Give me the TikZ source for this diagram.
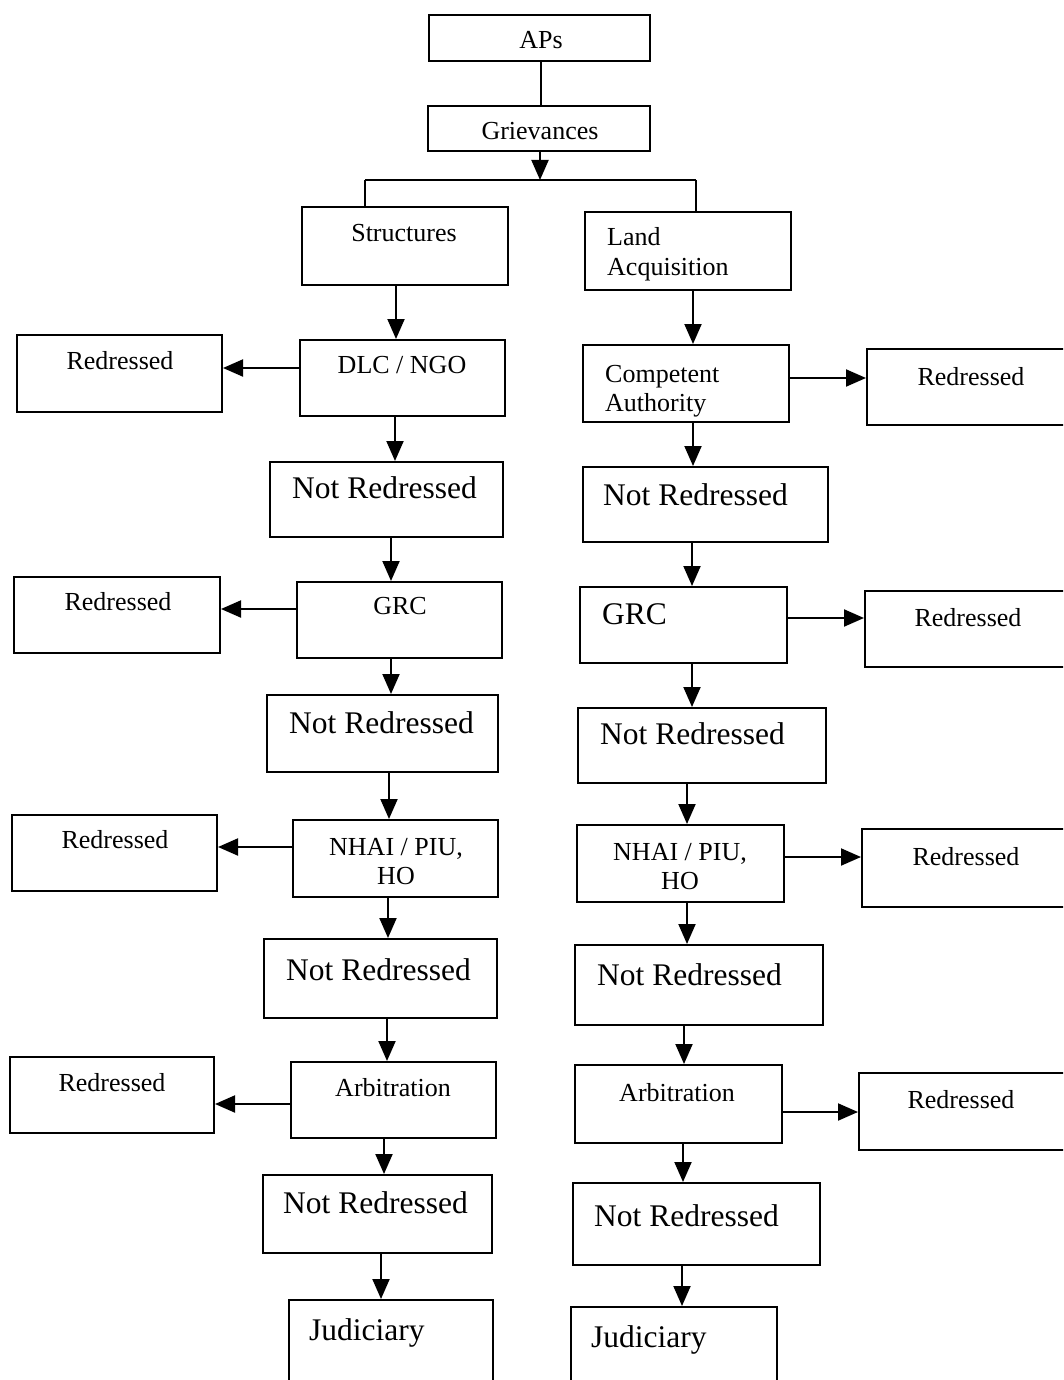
\documentclass[tikz,border=0pt]{standalone}
\usepackage{fontspec}
\setmainfont{Liberation Serif}
\usetikzlibrary{arrows.meta}
\newcommand\fsm{\fontsize{26}{29.5}\selectfont}
\newcommand\fbg{\fontsize{31.5}{36}\selectfont}
\newcommand\twoL[2]{\begin{tabular}[t]{@{}l@{}}#1\\#2\end{tabular}}
\newcommand\twoC[2]{\begin{tabular}[t]{@{}c@{}}#1\\#2\end{tabular}}
\newcommand\mybox[5]{\node[bx, minimum width={(#4-#2)*1pt}, minimum height={(#5-#3)*1pt}] (#1) at ({(#2+#4)/2},{(#3+#5)/2}) {};}
\newcommand\myv[3]{\path ([xshift=#3pt]#1.south) coordinate (tmpv); \draw[arr] (tmpv) -- (tmpv |- #2.north);}
\newcommand\myhl[3]{\path ([yshift=#3pt]#1.west) coordinate (tmph); \draw[arr] (tmph) -- (tmph -| #2.east);}
\newcommand\myhr[3]{\path ([yshift=#3pt]#1.east) coordinate (tmph); \draw[arr] (tmph) -- (tmph -| #2.west);}
\tikzset{
  bx/.style={draw=black, line width=2pt, inner sep=0pt, rectangle},
  ln/.style={draw=black, line width=2pt},
  arr/.style={ln, -{Triangle[width=17pt,length=20pt]}},
  tx/.style={inner sep=0pt, font=\fsm, text=black},
  tb/.style={inner sep=0pt, font=\fbg, text=black}
}
\begin{document}
\begin{tikzpicture}[x=1pt,y=-1pt]
\path[use as bounding box, fill=white] (0,0) rectangle (1063,1380);
\clip (0,0) rectangle (1063,1380);
% top
\mybox{aps}{429}{15}{650}{61}
\mybox{gr}{428}{106}{650}{151}
% left column
\mybox{S}{302}{207}{508}{285}
\mybox{dlc}{300}{340}{505}{416}
\mybox{nrA}{270}{462}{503}{537}
\mybox{grcL}{297}{582}{502}{658}
\mybox{nrB}{267}{695}{498}{772}
\mybox{nhaiL}{293}{820}{498}{897}
\mybox{nrC}{264}{939}{497}{1018}
\mybox{arbL}{291}{1062}{496}{1138}
\mybox{nrD}{263}{1175}{492}{1253}
\mybox{judL}{289}{1300}{493}{1392}
% left redressed
\mybox{rlA}{17}{335}{222}{412}
\mybox{rlB}{14}{577}{220}{653}
\mybox{rlC}{12}{815}{217}{891}
\mybox{rlD}{10}{1057}{214}{1133}
% right column
\mybox{LA}{585}{212}{791}{290}
\mybox{ca}{583}{345}{789}{422}
\mybox{nrE}{583}{467}{828}{542}
\mybox{grcR}{580}{587}{787}{663}
\mybox{nrF}{578}{708}{826}{783}
\mybox{nhaiR}{577}{825}{784}{902}
\mybox{nrG}{575}{945}{823}{1025}
\mybox{arbR}{575}{1065}{782}{1143}
\mybox{nrH}{573}{1183}{820}{1265}
\mybox{judR}{571}{1307}{777}{1392}
% right redressed
\mybox{rrA}{867}{349}{1075}{425}
\mybox{rrB}{865}{591}{1075}{667}
\mybox{rrC}{862}{829}{1075}{907}
\mybox{rrD}{859}{1073}{1075}{1150}
% texts
\node[tx, anchor=base] (tAPs) at (541,49) {APs};
\node[tx, anchor=base] (tGr) at (540,140) {Grievances};
\node[tx, anchor=base] (tS) at (404,241) {Structures};
\node[tx, anchor=base west] (tLA) at (607,246) {\twoL{Land}{Acquisition}};
\node[tx, anchor=base] (tDLC) at (402,373) {DLC / NGO};
\node[tx, anchor=base] (tRLA) at (120,369) {Redressed};
\node[tx, anchor=base west] (tCA) at (605,382) {\twoL{Competent}{Authority}};
\node[tx, anchor=base] (tRRA) at (971,385) {Redressed};
\node[tb, anchor=base west] (tNRA) at (292,498) {Not Redressed};
\node[tb, anchor=base west] (tNRE) at (603,505) {Not Redressed};
\node[tx, anchor=base] (tRLB) at (118,610) {Redressed};
\node[tx, anchor=base] (tGRCL) at (400,614) {GRC};
\node[tb, anchor=base west] (tGRCR) at (602,624) {GRC};
\node[tx, anchor=base] (tRRB) at (968,626) {Redressed};
\node[tb, anchor=base west] (tNRB) at (289,733) {Not Redressed};
\node[tb, anchor=base west] (tNRF) at (600,744) {Not Redressed};
\node[tx, anchor=base] (tRLC) at (115,848) {Redressed};
\node[tx, anchor=base] (tNHL) at (396,855) {\twoC{NHAI / PIU,}{HO}};
\node[tx, anchor=base] (tNHR) at (680,860) {\twoC{NHAI / PIU,}{HO}};
\node[tx, anchor=base] (tRRC) at (966,865) {Redressed};
\node[tb, anchor=base west] (tNRC) at (286,980) {Not Redressed};
\node[tb, anchor=base west] (tNRG) at (597,985) {Not Redressed};
\node[tx, anchor=base] (tRLD) at (112,1091) {Redressed};
\node[tx, anchor=base] (tArbL) at (393,1096) {Arbitration};
\node[tx, anchor=base] (tArbR) at (677,1101) {Arbitration};
\node[tx, anchor=base] (tRRD) at (961,1108) {Redressed};
\node[tb, anchor=base west] (tNRD) at (283,1213) {Not Redressed};
\node[tb, anchor=base west] (tNRH) at (594,1226) {Not Redressed};
\node[tb, anchor=base west] (tJL) at (309,1340) {Judiciary};
\node[tb, anchor=base west] (tJR) at (591,1347) {Judiciary};
% top connectors
\coordinate (brC) at (540,180);
\coordinate (brL) at (365,180);
\coordinate (brR) at (696,180);
\path ([xshift=1pt]aps.south) coordinate (tmpa);
\draw[ln] (tmpa) -- (tmpa |- gr.north);
\path ([xshift=1pt]gr.south) coordinate (tmpg);
\draw[arr] (tmpg) -- (tmpg |- brC);
\draw[ln] (brL) -- (brR);
\draw[ln] (brL) -- (brL |- S.north);
\draw[ln] (brR) -- (brR |- LA.north);
% left vertical arrows
\myv{S}{dlc}{-9}
\myv{dlc}{nrA}{-7.5}
\myv{nrA}{grcL}{4.5}
\myv{grcL}{nrB}{-8.5}
\myv{nrB}{nhaiL}{6.5}
\myv{nhaiL}{nrC}{-7.5}
\myv{nrC}{arbL}{6.5}
\myv{arbL}{nrD}{-9.5}
\myv{nrD}{judL}{3.5}
% right vertical arrows
\myv{LA}{ca}{5}
\myv{ca}{nrE}{7}
\myv{nrE}{grcR}{-13.5}
\myv{grcR}{nrF}{8.5}
\myv{nrF}{nhaiR}{-15}
\myv{nhaiR}{nrG}{6.5}
\myv{nrG}{arbR}{-15}
\myv{arbR}{nrH}{4.5}
\myv{nrH}{judR}{-14.5}
% horizontal arrows
\myhl{dlc}{rlA}{10}
\myhl{grcL}{rlB}{11}
\myhl{nhaiL}{rlC}{11.5}
\myhl{arbL}{rlD}{-4}
\myhr{ca}{rrA}{5.5}
\myhr{grcR}{rrB}{7}
\myhr{nhaiR}{rrC}{6.5}
\myhr{arbR}{rrD}{-8}
\end{tikzpicture}
\end{document}
